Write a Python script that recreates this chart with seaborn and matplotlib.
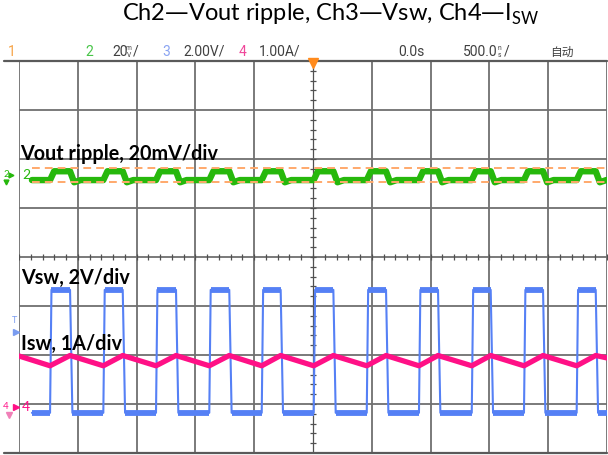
import numpy as np
import pandas as pd
import matplotlib
matplotlib.use("Agg")
import matplotlib.pyplot as plt
import seaborn as sns

time_per_div_us = 0.5          # 500 ns/div
ch2_mv_per_div = 20.0          # Vout ripple
ch3_v_per_div = 2.0            # Vsw
ch4_a_per_div = 1.0            # Isw

ch2_offset_div = 1.67          # ground marker positions (divisions from centre)
ch3_offset_div = -3.18
ch4_offset_div = -3.04

trace_start_us = -2.39
trace_end_us = 2.5

# switching-node edges (us)
rise_us = [-2.236, -1.783, -1.335, -0.882, -0.436, 0.006, 0.457, 0.901, 1.350, 1.794, 2.242]
fall_us = [-2.066, -1.618, -1.165, -0.712, -0.275, 0.173, 0.621, 1.063, 1.511, 1.956, 2.404]
edge_rise_us = 0.012
edge_fall_us = 0.02
vsw_low_v = 0.0
vsw_high_v = 5.02

# inductor / switch current (A)
il_start_a = 1.02
il_valley_a = 0.82
il_peak_a = 1.03
il_end_a = 0.98

# output ripple (mV)
vout_low_mv = -2.0
vout_high_mv = 1.6
vout_dip_mv = -2.9
vout_rise_us = 0.035
vout_fall_us = 0.035
vout_settle_us = 0.09

cursor_mv = [3.0, -2.6]

# ---------------- build traces ----------------
t_sw, v_sw = [trace_start_us], [vsw_low_v]
for r, f in zip(rise_us, fall_us):
    t_sw += [r, r + edge_rise_us, f, f + edge_fall_us]
    v_sw += [vsw_low_v, vsw_high_v, vsw_high_v, vsw_low_v]
t_sw.append(trace_end_us); v_sw.append(vsw_low_v)
sw = pd.DataFrame({"t": t_sw, "y": ch3_offset_div + np.array(v_sw) / ch3_v_per_div})

t_il, i_il = [-2.5], [il_start_a]
for r, f in zip(rise_us, fall_us):
    t_il += [r, f]
    i_il += [il_valley_a, il_peak_a]
t_il.append(2.5); i_il.append(il_end_a)
il = pd.DataFrame({"t": t_il, "y": ch4_offset_div + np.array(i_il) / ch4_a_per_div})

t_vo, v_vo = [trace_start_us], [vout_low_mv]
for r, f in zip(rise_us, fall_us):
    t_vo += [r, r + vout_rise_us, f, f + vout_fall_us, f + vout_settle_us]
    v_vo += [vout_low_mv, vout_high_mv, vout_high_mv, vout_dip_mv, vout_low_mv]
t_vo.append(trace_end_us); v_vo.append(vout_low_mv)
vo = pd.DataFrame({"t": t_vo, "y": ch2_offset_div + np.array(v_vo) / ch2_mv_per_div})

# ---------------- figure ----------------
sns.set_theme(style="white")
plt.rcParams['font.family'] = ['Lato', 'DejaVu Sans']

W, H = 608, 456
fig = plt.figure(figsize=(W / 100, H / 100), dpi=100)
fig.patch.set_facecolor("white")
def fx(x): return x / W
def fy(y): return 1 - y / H

ax = fig.add_axes([fx(19), fy(454), (607 - 19) / W, (454 - 62) / H])
ax.set_xlim(-5 * time_per_div_us, 5 * time_per_div_us)
ax.set_ylim(-4, 4)
ax.set_xticks([]); ax.set_yticks([])
for s in ax.spines.values():
    s.set_visible(False)
ax.set_facecolor("white")

GRID = "#707070"
for k in range(11):
    xv = -2.5 + k * time_per_div_us
    if k == 5:
        ax.axvline(xv, color="#505050", lw=0.9, zorder=1)
    else:
        ax.axvline(xv, color=GRID, lw=1.3, zorder=1)
for k in range(-3, 4):
    ax.axhline(k, color=GRID, lw=1.3, zorder=1)
# top / bottom frame lines extend to the left
for yy in (0, 1):
    ax.plot([-15 / 588, 1.0], [yy, yy], transform=ax.transAxes, color="#5a5a5a",
            lw=1.6, clip_on=False, zorder=2)
# minor ticks on centre axes
mx = np.arange(-2.5, 2.5001, time_per_div_us / 5)
ax.plot(mx, np.zeros_like(mx), ls="none", marker="|", ms=5, mew=0.9, color="#505050", zorder=1)
my = np.arange(-4, 4.001, 0.2)
ax.plot(np.zeros_like(my), my, ls="none", marker="_", ms=5, mew=0.9, color="#505050", zorder=1)

# traces
BLUE = "#5580f5"
PINK = "#ff1086"
GREEN = "#26b80c"
sns.lineplot(data=sw, x="t", y="y", estimator=None, sort=False, color=BLUE, lw=1.5, ax=ax, zorder=4)
hi_x0 = [r + edge_rise_us for r in rise_us]
ax.hlines([ch3_offset_div + vsw_high_v / ch3_v_per_div] * len(rise_us), hi_x0, fall_us,
          color=BLUE, lw=4.2, zorder=4)
lo_x0 = [trace_start_us] + [f + edge_fall_us for f in fall_us]
lo_x1 = rise_us + [trace_end_us]
ax.hlines([ch3_offset_div + vsw_low_v / ch3_v_per_div] * len(lo_x0), lo_x0, lo_x1,
          color=BLUE, lw=4.2, zorder=4)

sns.lineplot(data=il, x="t", y="y", estimator=None, sort=False, color=PINK, lw=3.8, ax=ax, zorder=6)
sns.lineplot(data=vo, x="t", y="y", estimator=None, sort=False, color=GREEN, lw=4.6, ax=ax, zorder=5)
for c in cursor_mv:
    yc = ch2_offset_div + c / ch2_mv_per_div
    ax.plot([trace_start_us, trace_end_us], [yc, yc], color="#ffa96b", lw=1.4,
            ls=(0, (4, 2.6)), zorder=7)
ax.set_xlabel(""); ax.set_ylabel("")

# trigger marker
ax.plot([0], [3.95], marker="v", ms=6.5, color="#ff8a1c", mec="#ff8a1c", clip_on=False, zorder=9)

# left markers
def px_ax(x, y):
    return ((x - 19) / 588, (454 - y) / 392)
ax.text(*px_ax(4, 175), "2", color=GREEN, fontsize=7, ha="left", va="center",
        transform=ax.transAxes, clip_on=False)
ax.plot(*px_ax(11, 176), marker=">", ms=3.5, color=GREEN, transform=ax.transAxes, clip_on=False)
ax.plot(*px_ax(6, 183), marker="v", ms=3.5, color=GREEN, transform=ax.transAxes, clip_on=False)
ax.text(*px_ax(22, 175), "2", color=GREEN, fontsize=10, ha="left", va="center",
        transform=ax.transAxes, clip_on=False)
ax.text(*px_ax(14, 321), "T", color="#7a9cf0", fontsize=6.5, ha="center", va="center",
        transform=ax.transAxes, clip_on=False)
ax.plot(*px_ax(15.5, 333), marker=">", ms=4, color="#7a9cf0", transform=ax.transAxes, clip_on=False)
ax.text(*px_ax(3, 407), "4", color=PINK, fontsize=7, ha="left", va="center",
        transform=ax.transAxes, clip_on=False)
ax.plot(*px_ax(9, 416), marker="v", ms=4, color="#f080b8", transform=ax.transAxes, clip_on=False)
ax.plot(*px_ax(15.5, 408), marker=">", ms=4, color=PINK, transform=ax.transAxes, clip_on=False)
ax.text(*px_ax(22, 407), "4", color=PINK, fontsize=10, ha="left", va="center",
        transform=ax.transAxes, clip_on=False)

# annotations
ANN = 14.2
ax.text(*px_ax(20, 154), "Vout ripple, 20mV/div", fontsize=ANN, fontweight="bold", color="black",
        ha="left", va="center", transform=ax.transAxes, zorder=10)
ax.text(*px_ax(21, 278), "Vsw, 2V/div", fontsize=ANN, fontweight="bold", color="black",
        ha="left", va="center", transform=ax.transAxes, zorder=10)
ax.text(*px_ax(21, 344), "Isw, 1A/div", fontsize=ANN, fontweight="bold", color="black",
        ha="left", va="center", transform=ax.transAxes, zorder=10)

# title
fig.text(fx(331), fy(14), r"Ch2—Vout ripple, Ch3—Vsw, Ch4—I$_\mathregular{SW}$",
         fontsize=17, ha="center", va="center", color="black")

# top status bar
BAR_Y = fy(52)
VAL = "#404040"
SF = ['Roboto', 'DejaVu Sans']
BF = 10
SMALL = 4.8
fig.text(fx(8), BAR_Y, "1", color="#f7a347", fontsize=BF, va="center", family=SF)
fig.text(fx(85), BAR_Y, "2", color="#48c548", fontsize=BF, va="center", family=SF)
fig.text(fx(112), BAR_Y, "20", color=VAL, fontsize=BF, va="center", family=SF)
fig.text(fx(126), fy(48), "m", color=VAL, fontsize=SMALL, va="center", family=SF)
fig.text(fx(126.5), fy(55.5), "V", color=VAL, fontsize=SMALL, va="center", family=SF)
fig.text(fx(133), BAR_Y, "/", color=VAL, fontsize=BF, va="center", family=SF)
fig.text(fx(162), BAR_Y, "3", color="#8aa4f2", fontsize=BF, va="center", family=SF)
fig.text(fx(183), BAR_Y, "2.00V/", color=VAL, fontsize=BF, va="center", family=SF)
fig.text(fx(239), BAR_Y, "4", color="#f0479a", fontsize=BF, va="center", family=SF)
fig.text(fx(259), BAR_Y, "1.00A/", color=VAL, fontsize=BF, va="center", family=SF)
fig.text(fx(398), BAR_Y, "0.0s", color=VAL, fontsize=BF, va="center", family=SF)
fig.text(fx(463), BAR_Y, "500.0", color=VAL, fontsize=BF, va="center", family=SF)
fig.text(fx(497), fy(48), "n", color=VAL, fontsize=SMALL, va="center", family=SF)
fig.text(fx(497.5), fy(55.5), "s", color=VAL, fontsize=SMALL, va="center", family=SF)
fig.text(fx(504), BAR_Y, "/", color=VAL, fontsize=BF, va="center", family=SF)
fig.text(fx(550), BAR_Y, "自动", color=VAL, fontsize=8.5, va="center",
         family=['Noto Sans CJK SC', 'DejaVu Sans'])

fig.savefig("out.png", dpi=100, facecolor="white")
